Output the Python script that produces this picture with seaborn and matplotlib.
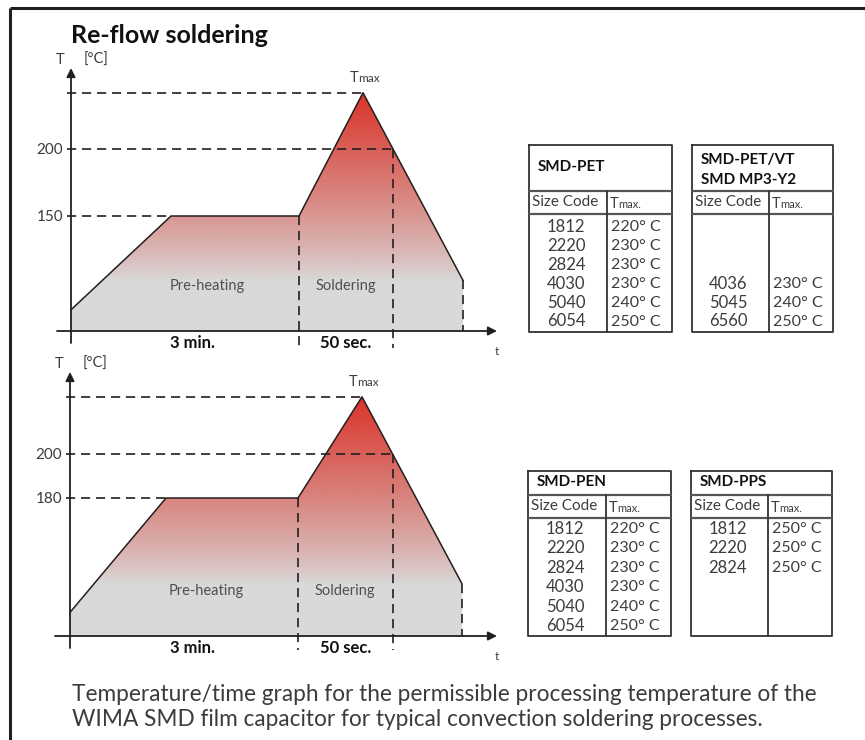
import numpy as np
import matplotlib
matplotlib.use('Agg')
import matplotlib.pyplot as plt
import seaborn as sns
from matplotlib.patches import Polygon

# ---- data (schematic profile: time units / deg C) ----
top_time = [0, 25, 57, 73, 98]
top_temp = [80, 150, 150, 242, 102]
top_ticks = [200, 150]

bot_time = [0, 24, 57, 73, 98]
bot_temp = [128, 180, 180, 226, 141]
bot_ticks = [200, 180]

phase_labels = ['Pre-heating', 'Soldering']
time_labels = ['3 min.', '50 sec.']

pet_codes = ['1812', '2220', '2824', '4030', '5040', '6054']
pet_tmax = [220, 230, 230, 230, 240, 250]
vt_codes = ['4036', '5045', '6560']
vt_tmax = [230, 240, 250]
pen_codes = ['1812', '2220', '2824', '4030', '5040', '6054']
pen_tmax = [220, 230, 230, 230, 240, 250]
pps_codes = ['1812', '2220', '2824']
pps_tmax = [250, 250, 250]

caption = ("Temperature/time graph for the permissible processing temperature of the\n"
           "WIMA SMD film capacitor for typical convection soldering processes.")

# ---- style ----
sns.set_theme(style='white')
plt.rcParams['font.family'] = ['Lato', 'DejaVu Sans']
INK = '#231f20'
TXT = '#3c3c3c'
GRAY = np.array([217, 217, 217]) / 255
RED = np.array([217, 52, 42]) / 255

W, H = 865, 740
fig = plt.figure(figsize=(W / 100, H / 100), dpi=100)

canvas = fig.add_axes([0, 0, 1, 1])
canvas.set_xlim(0, W)
canvas.set_ylim(H, 0)
canvas.axis('off')

# frame
canvas.plot([10, 10], [H + 5, 8], color=INK, lw=2.2, solid_capstyle='butt')
canvas.plot([10, W + 5], [8, 8], color=INK, lw=2.2, solid_capstyle='butt')

canvas.text(71, 43, 'Re-flow soldering', fontsize=18, fontweight='bold',
            color='#111111', va='baseline')
canvas.text(72, 707, caption, fontsize=16.3, color=TXT, va='center',
            linespacing=1.25)


def make_panel(box, t0_px, px_per_t, ref_T, ref_px, px_per_T):
    x0, y0, x1, y1 = box
    ax = fig.add_axes([x0 / W, 1 - y1 / H, (x1 - x0) / W, (y1 - y0) / H])
    ax.set_xlim((x0 - t0_px) / px_per_t, (x1 - t0_px) / px_per_t)
    ax.set_ylim(ref_T - (y1 - ref_px) / px_per_T, ref_T + (ref_px - y0) / px_per_T)
    ax.axis('off')
    ax.patch.set_alpha(0)
    return ax


def px2data(ax, x, y):
    return ax.transData.inverted().transform((x, H - y))


def draw_panel(ax, t, T, ticks, lay):
    xlim, ylim = ax.get_xlim(), ax.get_ylim()
    _, base = px2data(ax, 0, lay['xaxis_y'])
    t_ax, _ = px2data(ax, lay['yaxis_x'], 0)
    t_left, _ = px2data(ax, lay['xaxis_left'], 0)
    t_tip, _ = px2data(ax, lay['xaxis_tip'], 0)
    _, T_tip = px2data(ax, 0, lay['yaxis_tip'])
    _, T_low = px2data(ax, 0, lay['yaxis_low'])
    t_dash0, _ = px2data(ax, lay['yaxis_x'] - 4, 0)
    _, T_dash_low = px2data(ax, 0, lay['dash_low'])
    _, T_lab = px2data(ax, 0, lay['label_y'])
    _, T_phase = px2data(ax, 0, lay['phase_y'])

    peak = int(np.argmax(T))
    Tmax = T[peak]
    # crossing of 200 on the falling edge
    t200 = np.interp(200, [T[-1], Tmax], [t[-1], t[peak]])

    # gradient fill
    poly = Polygon(np.column_stack([[t[0]] + t + [t[-1]], [base] + T + [base]]),
                   closed=True, facecolor='none', edgecolor='none')
    ax.add_patch(poly)
    ys = np.linspace(Tmax, base, 400)
    frac = np.clip((ys - T[-1]) / (Tmax - T[-1]), 0, 1) ** 0.85
    img = GRAY + frac[:, None] * (RED - GRAY)
    im = ax.imshow(img[:, None, :], extent=(t[0], t[-1], base, Tmax),
                   aspect='auto', interpolation='bilinear', zorder=1)
    im.set_clip_path(poly)

    # profile outline
    sns.lineplot(x=t, y=T, ax=ax, color=INK, lw=1.1, sort=False,
                 estimator=None, zorder=3)

    dash = dict(color=INK, lw=1.2, ls=(0, (5.5, 3.5)), zorder=4)
    ax.plot([t_dash0, t[peak]], [Tmax, Tmax], **dash)
    ax.plot([t_dash0, t200], [200, 200], **dash)
    ax.plot([t_dash0, t[1]], [T[1], T[1]], **dash)
    ax.plot([t[2], t[2]], [T[2], T_dash_low], **dash)
    ax.plot([t200, t200], [200, T_dash_low], **dash)
    ax.plot([t[-1], t[-1]], [T[-1], base], **dash)

    # axes with arrows
    arrow = dict(arrowstyle='-|>', color=INK, lw=1.3, mutation_scale=13,
                 shrinkA=0, shrinkB=0)
    ax.annotate('', xy=(t_tip, base), xytext=(t_left, base), arrowprops=arrow, zorder=5)
    ax.annotate('', xy=(t_ax, T_tip), xytext=(t_ax, T_low), arrowprops=arrow, zorder=5)

    for v in ticks:
        ax.annotate(str(v), xy=(t_ax, v), xytext=(-8, -1), textcoords='offset pixels',
                    ha='right', va='center', fontsize=11, color=TXT)

    ax.annotate('T', xy=(t_ax, T_tip), xytext=(-11, 8), textcoords='offset pixels',
                ha='center', va='center', fontsize=10.5, color=TXT)
    ax.annotate('[°C]', xy=(t_ax, T_tip), xytext=(25, 8), textcoords='offset pixels',
                ha='center', va='center', fontsize=10.5, color=TXT)
    ax.annotate('t', xy=(t_tip, base), xytext=(0, -21), textcoords='offset pixels',
                ha='center', va='center', fontsize=8.5, color=TXT)

    ax.annotate('T', xy=(t[peak], Tmax), xytext=(-9, 11), textcoords='offset pixels',
                ha='center', va='baseline', fontsize=10.5, color=TXT)
    ax.annotate('max', xy=(t[peak], Tmax), xytext=(-5, 11), textcoords='offset pixels',
                ha='left', va='baseline', fontsize=8.5, color=TXT)

    ax.text(34, T_phase, phase_labels[0], ha='center', va='center',
            fontsize=10.5, color='#505050', zorder=6)
    ax.text((t[2] + t200) / 2, T_phase, phase_labels[1], ha='center',
            va='center', fontsize=10.5, color='#505050', zorder=6)
    ax.annotate(time_labels[0], xy=((t[0] + t[2]) / 2, T_lab), xytext=(8, 0),
                textcoords='offset pixels', ha='center', va='center',
                fontsize=12, fontweight='bold', color='#111111')
    ax.text((t[2] + t200) / 2, T_lab, time_labels[1], ha='center', va='center',
            fontsize=12, fontweight='bold', color='#111111')
    ax.set_xlim(xlim)
    ax.set_ylim(ylim)


ax_top = make_panel((40, 55, 510, 365), 71, 4.0, 150, 216, 1.34)
draw_panel(ax_top, top_time, top_temp, top_ticks,
           dict(xaxis_y=331, yaxis_x=71, xaxis_left=57, xaxis_tip=497,
                yaxis_tip=68, yaxis_low=343, dash_low=348, label_y=343,
                phase_y=286))

ax_bot = make_panel((40, 362, 510, 665), 70, 4.0, 180, 498, 2.2)
draw_panel(ax_bot, bot_time, bot_temp, bot_ticks,
           dict(xaxis_y=636, yaxis_x=70, xaxis_left=55, xaxis_tip=497,
                yaxis_tip=372, yaxis_low=648, dash_low=650, label_y=648,
                phase_y=591))


# ---- tables ----
def draw_table(x0, x1, xdiv, y_top, y_head, y_sub, y_bot, title, codes, temps,
               first_row, row_y0, row_step):
    lw = 1.3
    canvas.plot([x0, x1, x1, x0, x0], [y_top, y_top, y_bot, y_bot, y_top],
                color='#333333', lw=lw)
    canvas.plot([x0, x1], [y_head, y_head], color='#555555', lw=1.6)
    canvas.plot([x0, x1], [y_sub, y_sub], color='#555555', lw=1.6)
    canvas.plot([xdiv, xdiv], [y_head, y_bot], color='#333333', lw=lw)
    lines = title.split('\n')
    if len(lines) == 1:
        canvas.text(x0 + 9, (y_top + y_head) / 2 - 1, title, fontsize=11,
                    fontweight='bold', color='#111111', va='center')
    else:
        for i, ln in enumerate(lines):
            canvas.text(x0 + 9, y_top + 15 + i * 20, ln, fontsize=11,
                        fontweight='bold', color='#111111', va='center')
    ymid = (y_head + y_sub) / 2
    canvas.text(x0 + 3, ymid, 'Size Code', fontsize=11, color=TXT, va='center')
    canvas.text(xdiv + 3, ymid + 5, 'T', fontsize=10.5, color=TXT, va='baseline')
    canvas.text(xdiv + 11, ymid + 5, 'max.', fontsize=8, color=TXT, va='baseline')
    for i, (c, v) in enumerate(zip(codes, temps)):
        y = row_y0 + (first_row + i) * row_step
        canvas.text((x0 + xdiv) / 2 - 2, y, c, fontsize=12, color=TXT,
                    ha='center', va='center')
        canvas.text(xdiv + 4, y, f'{v}° C', fontsize=11.5, color=TXT,
                    ha='left', va='center')


draw_table(529, 672, 607, 145, 191, 214, 332, 'SMD-PET', pet_codes, pet_tmax,
           0, 227, 18.9)
draw_table(692, 833, 769, 145, 191, 214, 332, 'SMD-PET/VT\nSMD MP3-Y2',
           vt_codes, vt_tmax, 3, 227, 18.9)
draw_table(528, 671, 606, 471, 495, 518, 636, 'SMD-PEN', pen_codes, pen_tmax,
           0, 529, 19.4)
draw_table(691, 832, 768, 471, 495, 518, 636, 'SMD-PPS', pps_codes, pps_tmax,
           0, 529, 19.4)

fig.savefig('out.png', dpi=100)
